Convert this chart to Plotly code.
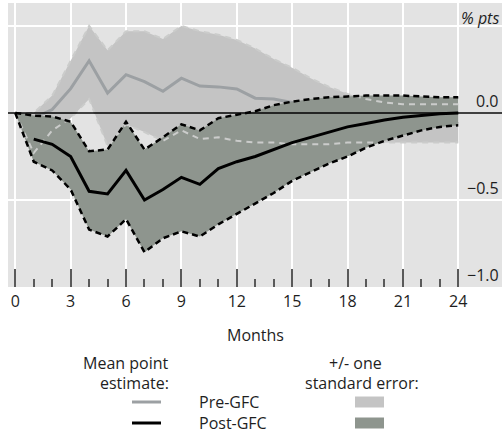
import plotly.graph_objects as go

# ---------------- data ----------------
months = list(range(25))

pre_mean = [0.0, -0.03, 0.02, 0.14, 0.30, 0.115, 0.22, 0.18, 0.125, 0.20, 0.155, 0.15, 0.138,
            0.085, 0.08, 0.06, 0.04, 0.02, 0.0, -0.02, -0.03, -0.04, -0.05, -0.05, -0.06]
pre_upper = [0.0, 0.0, 0.10, 0.30, 0.50, 0.36, 0.47, 0.47, 0.425, 0.50, 0.47, 0.45, 0.42,
             0.37, 0.31, 0.26, 0.20, 0.15, 0.11, 0.08, 0.06, 0.05, 0.05, 0.05, 0.05]
pre_lower = [0.0, -0.23, -0.10, -0.03, 0.08, -0.19, -0.065, -0.11, -0.16, -0.10, -0.15, -0.14, -0.16,
             -0.17, -0.17, -0.18, -0.18, -0.18, -0.17, -0.17, -0.17, -0.17, -0.17, -0.17, -0.17]

post_mean = [None, -0.15, -0.18, -0.25, -0.45, -0.465, -0.33, -0.50, -0.44, -0.37, -0.41, -0.32, -0.28,
             -0.25, -0.21, -0.17, -0.14, -0.11, -0.08, -0.06, -0.04, -0.025, -0.015, -0.005, 0.0]
post_upper = [0.0, -0.015, -0.02, -0.05, -0.22, -0.21, -0.05, -0.21, -0.14, -0.065, -0.10, -0.03, -0.01,
              0.01, 0.045, 0.065, 0.08, 0.09, 0.095, 0.10, 0.10, 0.10, 0.095, 0.09, 0.09]
post_lower = [0.0, -0.28, -0.33, -0.44, -0.67, -0.71, -0.61, -0.80, -0.72, -0.68, -0.71, -0.64, -0.58,
              -0.52, -0.46, -0.39, -0.34, -0.29, -0.25, -0.20, -0.16, -0.13, -0.10, -0.08, -0.07]

x_tick_vals = [0, 3, 6, 9, 12, 15, 18, 21, 24]
x_minor_vals = [m for m in months if m % 3 != 0]
y_tick_vals = [0.0, -0.5, -1.0]
y_tick_text = ["0.0", "\u22120.5", "\u22121.0"]
x_title = "Months"
y_unit = "% pts"
legend_head_left = ["Mean point", "estimate:"]
legend_head_right = ["+/- one", "standard error:"]
series_names = ["Pre-GFC", "Post-GFC"]

# ---------------- style ----------------
FONT = "Open Sans"
FS = 16
TXT = "#1e1e1e"
BG = "#e3e3e3"
PRE_BAND = "#c4c4c4"
PRE_LINE = "#9ca0a3"
POST_BAND = "#8e958e"
PRE_EDGE = "#cbcccb"

W, H = 502, 435
L, R, T, B = 8, 502, 3, 287  # plot area in pixels


def xp(px):
    return (px - L) / (R - L)


def yp(py):
    return (B - py) / (B - T)


fig = go.Figure()

# pre-GFC band
fig.add_trace(go.Scatter(x=months + months[::-1], y=pre_upper + pre_lower[::-1],
                         fill="toself", fillcolor=PRE_BAND, line=dict(width=0),
                         mode="lines", hoverinfo="skip", showlegend=False))
# pre-GFC mean
fig.add_trace(go.Scatter(x=months, y=pre_mean, mode="lines",
                         line=dict(color=PRE_LINE, width=3), showlegend=False))
# post-GFC band
fig.add_trace(go.Scatter(x=months + months[::-1], y=post_upper + post_lower[::-1],
                         fill="toself", fillcolor=POST_BAND, line=dict(width=0),
                         mode="lines", hoverinfo="skip", showlegend=False))
# pre-GFC band edges (visible through the post band)
for arr in (pre_upper, pre_lower):
    fig.add_trace(go.Scatter(x=months, y=arr, mode="lines",
                             line=dict(color=PRE_EDGE, width=2, dash="6px,5px"), showlegend=False))
# post-GFC band edges
for arr in (post_upper, post_lower):
    fig.add_trace(go.Scatter(x=months, y=arr, mode="lines",
                             line=dict(color="black", width=2.5, dash="6px,4px"), showlegend=False))
# post-GFC mean
fig.add_trace(go.Scatter(x=months, y=post_mean, mode="lines",
                         line=dict(color="black", width=3), showlegend=False))

# zero line
fig.add_shape(type="line", xref="paper", yref="y", x0=0, x1=1, y0=0, y1=0,
              line=dict(color="black", width=1.5), layer="above")

annotations = []
# y labels
for v, t in zip(y_tick_vals, y_tick_text):
    annotations.append(dict(x=1, xref="paper", y=v, yref="y", text=t, showarrow=False,
                            xanchor="right", yanchor="middle", yshift=12, xshift=-1,
                            font=dict(family=FONT, size=FS, color=TXT)))
annotations.append(dict(x=1, xref="paper", y=yp(18), yref="paper", text="<i>" + y_unit + "</i>",
                        showarrow=False, xanchor="right", yanchor="middle", xshift=-1,
                        font=dict(family=FONT, size=FS, color=TXT)))
# x title
annotations.append(dict(x=xp(256), xref="paper", y=yp(335), yref="paper", text=x_title,
                        showarrow=False, xanchor="center", yanchor="middle",
                        font=dict(family=FONT, size=FS, color=TXT)))
# legend headers
for i, t in enumerate(legend_head_left):
    annotations.append(dict(x=xp(171), xref="paper", y=yp(363 + 20 * i), yref="paper", text=t,
                            showarrow=False, xanchor="right", yanchor="middle",
                            font=dict(family=FONT, size=FS, color=TXT)))
for i, (t, cx) in enumerate(zip(legend_head_right, [355, 362])):
    annotations.append(dict(x=xp(cx), xref="paper", y=yp(363 + 20 * i), yref="paper", text=t,
                            showarrow=False, xanchor="center", yanchor="middle",
                            font=dict(family=FONT, size=FS, color=TXT)))
# legend rows
line_cols = [PRE_LINE, "black"]
box_cols = [PRE_BAND, POST_BAND]
for i, name in enumerate(series_names):
    cy = 402 + 21 * i
    annotations.append(dict(x=xp(197), xref="paper", y=yp(cy), yref="paper", text=name,
                            showarrow=False, xanchor="left", yanchor="middle",
                            font=dict(family=FONT, size=FS, color=TXT)))
    fig.add_shape(type="line", xref="paper", yref="paper", x0=xp(132), x1=xp(161),
                  y0=yp(cy), y1=yp(cy), line=dict(color=line_cols[i], width=3))
    fig.add_shape(type="rect", xref="paper", yref="paper", x0=xp(355), x1=xp(384),
                  y0=yp(cy - 5.5), y1=yp(cy + 5.5), line=dict(width=0), fillcolor=box_cols[i])

fig.update_layout(
    width=W, height=H,
    margin=dict(l=L, r=W - R, t=T, b=H - B, pad=0),
    paper_bgcolor="white", plot_bgcolor=BG,
    showlegend=False,
    annotations=annotations,
    font=dict(family=FONT, size=FS, color=TXT),
    xaxis=dict(range=[-0.395, 26.37], tickmode="array", tickvals=x_tick_vals,
               ticks="inside", ticklen=18, tickwidth=2, tickcolor="#5a5a5a",
               ticklabelstandoff=3,
               showgrid=True, gridcolor="white", gridwidth=1.5, zeroline=False, showline=False,
               tickfont=dict(family=FONT, size=FS, color=TXT),
               minor=dict(tickmode="array", tickvals=x_minor_vals, ticks="inside", ticklen=8,
                          tickwidth=1.5, tickcolor="#5a5a5a", showgrid=False)),
    yaxis=dict(range=[-1.0, 0.632], tickmode="array", tickvals=[-1.0, -0.5, 0.0, 0.5],
               showticklabels=False, ticks="", showgrid=True, gridcolor="white", gridwidth=1.5,
               zeroline=False, showline=False),
)

fig.write_html("out.html", config={"displayModeBar": False},
               post_script="document.body.style.margin='0';document.body.style.padding='0';")
